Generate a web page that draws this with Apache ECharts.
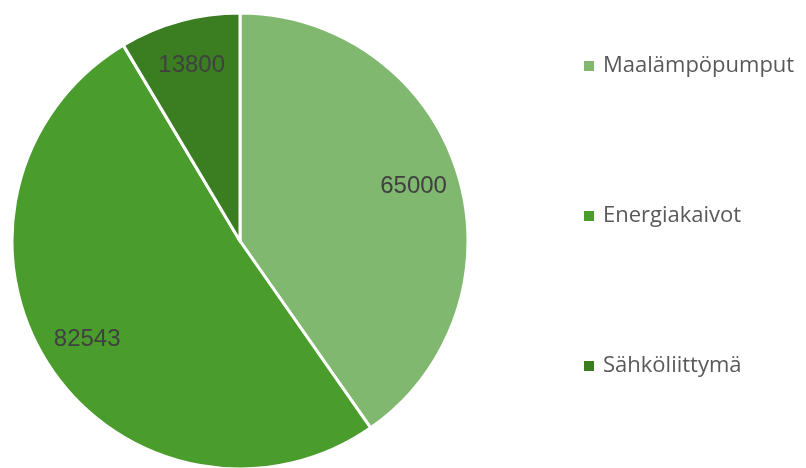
<!DOCTYPE html>
<html><head><meta charset="utf-8">
<script src="https://cdn.jsdelivr.net/npm/echarts@6/dist/echarts.min.js"></script>
<style>html,body{margin:0;padding:0;background:#fff}#c{width:806px;height:468px}</style>
</head><body><div id="c"></div>
<script>
const categories = ['Maalämpöpumput', 'Energiakaivot', 'Sähköliittymä'];
const values = [65000, 82543, 13800];
const colors = ['#80B870', '#4A9D2D', '#3B7E22'];

const data = categories.map((n, i) => ({ name: n, value: values[i], itemStyle: { color: colors[i] } }));
const chart = echarts.init(document.getElementById('c'));
chart.setOption({
  animation: false,
  legend: {
    orient: 'vertical', left: 579, top: 49, itemGap: 126,
    itemWidth: 10, itemHeight: 10, icon: 'rect', itemStyle: { borderWidth: 0 },
    data: categories,
    textStyle: { fontFamily: 'Open Sans', fontSize: 22, color: '#595959', lineHeight: 24, padding: [0, 0, 0, 4] }
  },
  series: [
    {
      type: 'pie', center: [240, 241], radius: [0, 228], startAngle: 90, clockwise: true,
      silent: true,
      itemStyle: { borderColor: '#fff', borderWidth: 3 },
      label: { show: false }, labelLine: { show: false },
      data: data
    },
    {
      type: 'pie', center: [240, 241], radius: [0, 358], startAngle: 90, clockwise: true,
      silent: true,
      itemStyle: { color: 'rgba(0,0,0,0)', borderWidth: 0 },
      label: { show: true, position: 'inside', formatter: '{c}', fontFamily: 'Liberation Sans', fontSize: 24, color: '#404040' },
      labelLine: { show: false },
      data: categories.map((n, i) => ({ name: n, value: values[i] }))
    }
  ]
});
</script></body></html>
